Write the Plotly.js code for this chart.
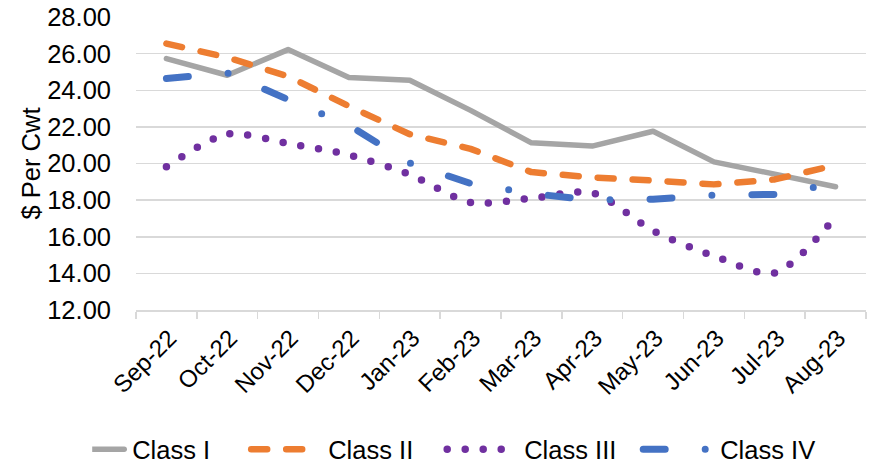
<!DOCTYPE html>
<html>
<head>
<meta charset="utf-8">
<script src="https://cdn.plot.ly/plotly-3.0.1.min.js"></script>
<style>
  html, body { margin: 0; padding: 0; background: #fff; }
  #chart { width: 875px; height: 463px; }
  .scatterlayer path.js-line { stroke-linecap: round !important; stroke-linejoin: round !important; }
  .legend .legendlines path, .legend path.js-line { stroke-linecap: round !important; d: path("M-37,0h69") !important; }
</style>
</head>
<body>
<div id="chart"></div>
<script>
const months = ["Sep-22","Oct-22","Nov-22","Dec-22","Jan-23","Feb-23","Mar-23","Apr-23","May-23","Jun-23","Jul-23","Aug-23"];
const classI   = [25.73, 24.82, 26.22, 24.69, 24.55, 22.90, 21.13, 20.95, 21.76, 20.09, 19.42, 18.73];
const classII  = [26.55, 25.79, 24.76, 23.13, 21.60, 20.80, 19.53, 19.24, 19.07, 18.86, 19.13, 19.91];
const classIII = [19.82, 21.60, 21.09, 20.47, 19.40, 17.87, 18.10, 18.40, 16.33, 14.95, 14.02, 17.09];
const classIV  = [24.64, 24.95, 23.49, 22.09, 20.02, 18.91, 18.36, 18.00, 18.05, 18.27, 18.31, 18.90];

const traces = [
  {name: "Class I", x: months, y: classI, type: "scatter", mode: "lines",
   line: {color: "#a5a5a5", width: 5.5}},
  {name: "Class II", x: months, y: classII, type: "scatter", mode: "lines",
   line: {color: "#ed7d31", width: 6.5, dash: "16px,19px"}},
  {name: "Class III", x: months, y: classIII, type: "scatter", mode: "lines",
   line: {color: "#7030a0", width: 7.5, dash: "0px,18px", shape: "spline", smoothing: 0.8}},
  {name: "Class IV", x: months, y: classIV, type: "scatter", mode: "lines",
   line: {color: "#4472c4", width: 7, dash: "22px,40px,0px,40px"}}
];

const layout = {
  width: 875, height: 463,
  margin: {l: 136, r: 9, t: 17, b: 153, autoexpand: false},
  paper_bgcolor: "#ffffff", plot_bgcolor: "#ffffff",
  font: {family: "Liberation Sans, Arial, sans-serif", color: "#000000", size: 24},
  showlegend: true,
  legend: {orientation: "h", x: -0.06, xanchor: "left", y: -0.477, yanchor: "middle",
           font: {size: 25.5, color: "#000"}, traceorder: "normal",
           entrywidth: 151, entrywidthmode: "pixels", bgcolor: "rgba(0,0,0,0)"},
  xaxis: {
    type: "category", range: [-0.5, 11.5], autorange: false, tickangle: -45, automargin: false,
    showgrid: false, showline: true, linecolor: "#d9d9d9", linewidth: 1.5,
    ticks: "outside", tickson: "boundaries", ticklen: 7, tickcolor: "#d9d9d9", tickwidth: 1.5,
    tickfont: {size: 24}, ticklabelshift: 3, ticklabelstandoff: 3,
    zeroline: false, fixedrange: true
  },
  yaxis: {
    range: [12, 28], autorange: false, dtick: 2, tick0: 12, tickformat: ".2f", automargin: false,
    showgrid: true, gridcolor: "#d9d9d9", gridwidth: 1.5,
    showline: false, zeroline: false, ticks: "", ticklabelstandoff: 24,
    tickfont: {size: 25.5},
    title: {text: "$ Per Cwt", font: {size: 25.5}}, fixedrange: true
  }
};

function stretchLegend() {
  document.querySelectorAll("#chart .legend .traces path").forEach(function (p) {
    const d = p.getAttribute("d") || "";
    if (/^M5,0h30$/.test(d) || p.classList.contains("js-line")) {
      p.setAttribute("d", "M-37,0h69");
      p.style.strokeLinecap = "round";
    }
  });
}

Plotly.newPlot("chart", traces, layout, {displayModeBar: false, staticPlot: true}).then(function (gd) {
  stretchLegend();
  gd.on && gd.on("plotly_afterplot", stretchLegend);
  setTimeout(stretchLegend, 50);
});
</script>
</body>
</html>
